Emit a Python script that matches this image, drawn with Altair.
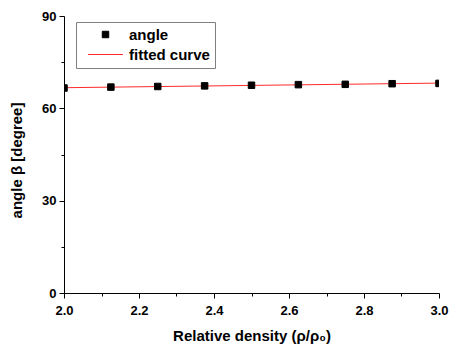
import altair as alt
import pandas as pd

# Measured contact angle against relative density
rho = [2.0, 2.125, 2.25, 2.375, 2.5, 2.625, 2.75, 2.875, 3.0]
angle = [66.6, 66.9, 67.1, 67.3, 67.5, 67.7, 67.8, 68.0, 68.1]

# Linear fit through the measurements (end points)
fit_rho = [2.0, 3.0]
fit_angle = [66.7, 68.2]

# Axis ticks
x_major = [2.0, 2.2, 2.4, 2.6, 2.8, 3.0]
x_minor = [2.1, 2.3, 2.5, 2.7, 2.9]
y_major = [0, 30, 60, 90]
y_minor = [15, 45, 75]

series_names = ["angle", "fitted curve"]
series_colors = ["black", "#ff2a2a"]
# square marker for the measurements, a short horizontal stroke for the fit
series_shapes = ["square", "M-5.4,0H5.4"]

pts = pd.DataFrame({"rho": rho, "angle": angle, "series": "angle"})
fit = pd.DataFrame({"rho": fit_rho, "angle": fit_angle})

FONT = "Liberation Sans"

xscale = alt.Scale(domain=[2.0, 3.0], nice=False, zero=False)
yscale = alt.Scale(domain=[0, 90], nice=False)

legend = alt.Legend(
    title=None,
    orient="none",
    legendX=12,
    legendY=6,
    strokeColor="#808080",
    padding=5,
    fillColor="white",
    labelFont=FONT,
    labelFontSize=15,
    labelFontWeight="bold",
    labelColor="black",
    labelExpr="datum.label + '\u00a0\u00a0\u00a0\u00a0\u00a0\u00a0'",
    symbolSize=42,
    symbolOffset=17,
    labelOffset=16,
    rowPadding=4,
    symbolStrokeWidth=1,
    symbolOpacity=1,
)

major_x_axis = alt.Axis(
    values=x_major, format=".1f", orient="bottom",
    title="Relative density (ρ/ρ₀)", titleFont=FONT, titleFontSize=15,
    titleFontWeight="bold", titleColor="black", titlePadding=11,
    labelFont=FONT, labelFontSize=13, labelFontWeight="bold", labelColor="black",
    labelPadding=6, tickSize=5, tickColor="black", domainColor="black",
    grid=False, labelFlush=False,
)
major_y_axis = alt.Axis(
    values=y_major, orient="left",
    title="angle β [degree]", titleFont=FONT, titleFontSize=15,
    titleFontWeight="bold", titleColor="black", titlePadding=17, titleY=144,
    labelFont=FONT, labelFontSize=13, labelFontWeight="bold", labelColor="black",
    labelPadding=3, tickSize=5, tickColor="black", domainColor="black",
    grid=False, labelFlush=False,
)
minor_x_axis = alt.Axis(
    values=x_minor, orient="bottom", title=None, labels=False, domain=False,
    tickSize=3, tickColor="black", grid=False,
)
minor_y_axis = alt.Axis(
    values=y_minor, orient="left", title=None, labels=False, domain=False,
    tickSize=3, tickColor="black", grid=False,
)

points = alt.Chart(pts).mark_point(filled=True, opacity=1, clip=True, strokeWidth=1).encode(
    x=alt.X("rho:Q", scale=xscale, axis=major_x_axis),
    y=alt.Y("angle:Q", scale=yscale, axis=major_y_axis),
    color=alt.Color("series:N", scale=alt.Scale(domain=series_names, range=series_colors), legend=legend),
    stroke=alt.Stroke("series:N", scale=alt.Scale(domain=series_names, range=series_colors), legend=legend),
    shape=alt.Shape("series:N", scale=alt.Scale(domain=series_names, range=series_shapes), legend=legend),
    size=alt.value(42),
)

line = alt.Chart(fit).mark_line(color="#ff2a2a", strokeWidth=1, clip=True).encode(
    x=alt.X("rho:Q", scale=xscale, axis=minor_x_axis),
    y=alt.Y("angle:Q", scale=yscale, axis=minor_y_axis),
)

chart = (
    alt.layer(line, points)
    .resolve_axis(x="independent", y="independent")
    .properties(
        width=375,
        height=277,
        autosize=alt.AutoSizeParams(type="none"),
        padding={"left": 64, "top": 16, "right": 11, "bottom": 57},
        background="white",
    )
    .configure_view(stroke=None)
)

chart.save("out.html", embed_options={"renderer": "svg", "actions": False})
